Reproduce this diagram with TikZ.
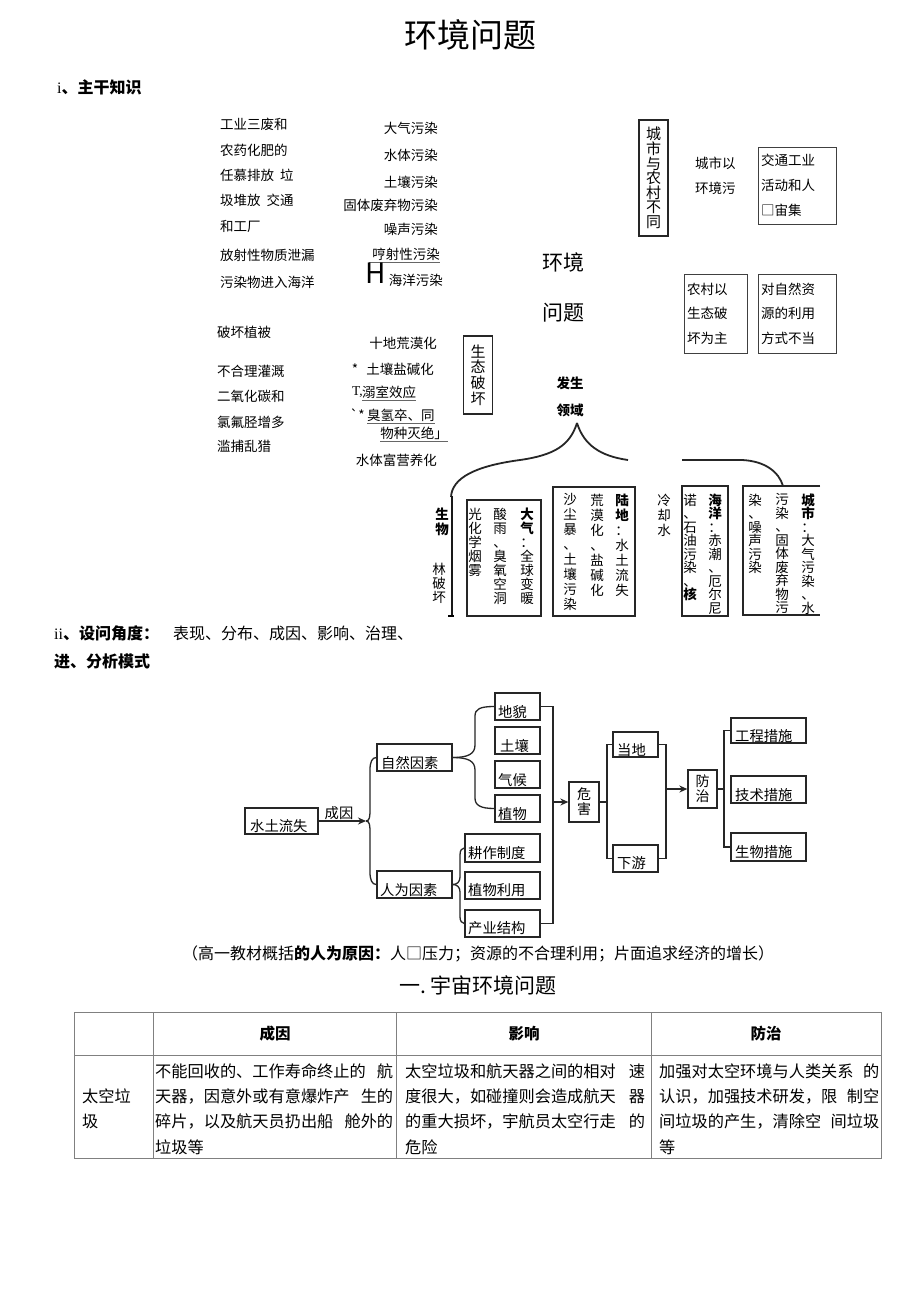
\documentclass[tikz,border=0pt]{standalone}
\usepackage{fontspec}
\setmainfont{Noto Sans CJK SC}
\newfontfamily\latserif{Liberation Serif}
\usetikzlibrary{arrows.meta}
\newcommand\myfs[1]{\fontsize{#1}{#1}\selectfont}
\newcommand\vfs[2]{\fontsize{#1}{#2}\selectfont}
\begin{document}
\begin{tikzpicture}[x=1pt,y=-1pt,
  tx/.style={inner sep=0pt, font=\myfs{13.5}},
  txl/.style={tx, anchor=west},
  txr/.style={tx, anchor=east},
  vtxt/.style={inner sep=0pt, align=center},
  thinbox/.style={draw=black!75, line width=0.8pt, inner sep=0pt},
  vbox/.style={draw=black!85, line width=1.3pt, inner sep=0pt},
  bigbox/.style={draw=black!85, line width=1.4pt},
  fbox/.style={draw=black!85, line width=1.3pt, inner sep=0pt},
  ftx/.style={inner sep=0pt, anchor=west, font=\myfs{14.3}},
  conn/.style={draw=black!85, line width=1.3pt},
  arr/.style={conn, -{Stealth[length=8pt,width=7pt]}},
  ul/.style={draw=black!60, line width=0.7pt},
  tbl/.style={draw=black!50, line width=0.8pt},
  brc/.style={draw=black!85, line width=1.8pt},
  colA/.style={vtxt, anchor=north, font=\vfs{13.5}{14}},
  colB/.style={vtxt, anchor=north, font=\vfs{13.5}{15}},
  colC/.style={vtxt, anchor=north, font=\vfs{13.5}{13.5}},
  cell/.style={inner sep=0pt, anchor=west, font=\myfs{16.2}}
]
\fill[white] (0,0) rectangle (920,1301);
\useasboundingbox (0,0) rectangle (920,1301);

% ---------- title ----------
\node[inner sep=0pt, font=\myfs{33}] (title) at (470,35) {环境问题};
\node[anchor=west, inner sep=0pt, font=\myfs{16}] (h1) at (57,87) {{\latserif i}\textbf{、主干知识}};

% ---------- left column ----------
\node[txl] (l1) at (220,124) {工业三废和};
\node[txl] (l2) at (220,150) {农药化肥的};
\node[txl] (l3) at (220,175) {任慕排放\hspace{6pt}垃};
\node[txl] (l4) at (220,200) {圾堆放\hspace{6pt}交通};
\node[txl] (l5) at (220,226) {和工厂};
\node[txl] (l6) at (220,255) {放射性物质泄漏};
\node[txl] (l7) at (220,282) {污染物进入海洋};

% ---------- middle column ----------
\node[txr] (m1) at (438,128) {大气污染};
\node[txr] (m2) at (438,155) {水体污染};
\node[txr] (m3) at (438,182) {土壤污染};
\node[txr] (m4) at (438,205) {固体废弃物污染};
\node[txr] (m5) at (438,229) {噪声污染};
\node[txr] (m6) at (440,254) {哼射性污染};
\draw[ul] ([xshift=-3pt,yshift=-2pt]m6.south west) -- ([yshift=-2pt]m6.south east);
\node[inner sep=0pt, font=\myfs{28}] (hh) at (376,273) {H};
\node[txr] (m7) at (443,280) {海洋污染};

% ---------- lower left ----------
\node[txl] (b1) at (217,332) {破坏植被};
\node[txl] (b2) at (217,371) {不合理灌溉};
\node[txl] (b3) at (217,396) {二氧化碳和};
\node[txl] (b4) at (217,422) {氯氟胫增多};
\node[txl] (b5) at (217,446) {滥捕乱猎};

% ---------- middle lower ----------
\node[txr] (n1) at (437,343) {十地荒漠化};
\node[txr] (n2) at (434,369) {*\hspace{8pt}土壤盐碱化};
\node[txl] (n3) at (352,392) {{\latserif T,}};
\node[txl] (n3u) at (362,392) {溺室效应};
\draw[ul] ([yshift=-2pt]n3u.south west) -- ([yshift=-2pt]n3u.south east);
\node[txl] (n4) at (350,415) {\textasciigrave*};
\node[txl] (n4u) at (367,415) {臭氢卒、同};
\draw[ul] ([yshift=-2pt]n4u.south west) -- ([yshift=-2pt]n4u.south east);
\node[txr] (n5u) at (448,433) {物种灭绝」};
\draw[ul] ([yshift=-2pt]n5u.south west) -- ([yshift=-2pt]n5u.south east);
\node[txr] (n6) at (437,460) {水体富营养化};

\node[vbox, vtxt, minimum width=29pt, minimum height=78pt, font=\vfs{15}{15.8}] (stph) at (478,375) {生\\态\\破\\坏};

% ---------- right upper ----------
\node[vbox, vtxt, minimum width=29pt, minimum height=116pt, font=\vfs{15}{14.6}] (csnc) at (653.5,178) {城\\市\\与\\农\\村\\不\\同};
\node[inner sep=0pt, font=\myfs{21}] (hj) at (563,262) {环境};
\node[inner sep=0pt, font=\myfs{21}] (wt) at (563,313) {问题};
\node[txl] (cs1t) at (695,163) {城市以};
\node[txl] (cs2t) at (695,188) {环境污};
\node[thinbox, align=left, text width=72pt, minimum width=78pt, minimum height=77pt, font=\vfs{13.5}{25}] (jt) at (797,185.5) {交通工业\\活动和人\\□宙集};
\node[thinbox, align=left, text width=57pt, minimum width=63pt, minimum height=79pt, font=\vfs{13.5}{24.5}] (ncy) at (715.5,313.5) {农村以\\生态破\\坏为主};
\node[thinbox, align=left, text width=72pt, minimum width=78pt, minimum height=79pt, font=\vfs{13.5}{24.5}] (dzr) at (797,313.5) {对自然资\\源的利用\\方式不当};

\node[inner sep=0pt, font=\myfs{13.5}] (fs) at (570,383) {\textbf{发生}};
\node[inner sep=0pt, font=\myfs{13.5}] (ly) at (570,410) {\textbf{领域}};

% ---------- brace ----------
\coordinate (bt) at (577,423);
\coordinate (bre) at (628,460);
\coordinate (brl) at (451,497);
\coordinate (rb1) at (682,460);
\coordinate (rb2) at (783,486);
\draw[brc] (bt) .. controls (584,445) and (600,456) .. (bre);
\draw[brc] (bt) .. controls (570,445) and (555,455) .. (520,460) .. controls (475,466) and (452,478) .. (brl);
\draw[brc] (rb1) -- (742,460) .. controls (765,461) and (779,472) .. (rb2);
\draw[line width=2.6pt, draw=black!90] (452,496) -- (452,616);
\draw[line width=1.5pt] (448,616) -- (454,616);

\node[vtxt, anchor=north, font=\vfs{13.5}{15}] (bio) at (442,508) {\textbf{生}\\\textbf{物}};
\node[vtxt, anchor=north, font=\vfs{13.5}{14}] (lpw) at (439,563) {林\\破\\坏};

% ---------- lower boxes ----------
\node[bigbox, minimum width=74pt, minimum height=116pt, inner sep=0pt] (dqb) at (504,558) {};
\node[colA] (dq1) at (527,507.5) {\textbf{大}\\\textbf{气}\\：\\全\\球\\变\\暖};
\node[colA] (dq2) at (500,507.5) {酸\\雨\\、\\臭\\氧\\空\\洞};
\node[colA] (dq3) at (475,507.5) {光\\化\\学\\烟\\雾};

\node[bigbox, minimum width=82pt, minimum height=129pt, inner sep=0pt] (ldb) at (594,551.5) {};
\node[colB] (ld1) at (622,493.5) {\textbf{陆}\\\textbf{地}\\：\\水\\土\\流\\失};
\node[colB] (ld2) at (597,493.5) {荒\\漠\\化\\、\\盐\\碱\\化};
\node[colB] (ld3) at (570,493.5) {沙\\尘\\暴\\、\\土\\壤\\污\\染};

\node[colB] (lqs) at (664,493.5) {冷\\却\\水};

\node[bigbox, minimum width=46pt, minimum height=130pt, inner sep=0pt] (hyb) at (705,551) {};
\node[colC] (hy1) at (715,493.5) {\textbf{海}\\\textbf{洋}\\：\\赤\\潮\\、\\厄\\尔\\尼};
\node[colC] (hy2) at (690,493.5) {诺\\、\\石\\油\\污\\染\\、\\\textbf{核}};

\draw[line width=1.4pt, draw=black!85] (820,486) -- (743,486) -- (743,615) -- (820,615);
\node[colC] (cs1) at (808,493.5) {\textbf{城}\\\textbf{市}\\：\\大\\气\\污\\染\\、\\水};
\node[colC] (cs2) at (782,493.5) {污\\染\\、\\固\\体\\废\\弃\\物\\污};
\node[colC] (cs3) at (755,493.5) {染\\、\\噪\\声\\污\\染};

% ---------- section ii ----------
\node[anchor=west, inner sep=0pt, font=\myfs{16}] (h2) at (54,633) {{\latserif ii}\textbf{、设问角度：}};
\node[anchor=west, inner sep=0pt, font=\myfs{16}] (h2b) at (173,633) {表现、分布、成因、影响、治理、};
\node[anchor=west, inner sep=0pt, font=\myfs{16}] (h3) at (54,661) {\textbf{进、分析模式}};

% ---------- flowchart ----------
\node[fbox, minimum width=73pt, minimum height=26pt] (sttl) at (281.5,821) {};
\node[ftx] (sttlt) at (250,826) {水土流失};
\node[fbox, minimum width=75pt, minimum height=27pt] (zrys) at (414.5,757.5) {};
\node[ftx] (zryst) at (381,763) {自然因素};
\node[fbox, minimum width=75pt, minimum height=27pt] (rwys) at (414.5,884.5) {};
\node[ftx] (rwyst) at (380,890) {人为因素};

\node[fbox, minimum width=45pt, minimum height=27pt] (dm) at (517.5,706.5) {};
\node[ftx] (dmt) at (498,712) {地貌};
\node[fbox, minimum width=45pt, minimum height=27pt] (tr) at (517.5,740.5) {};
\node[ftx] (trt) at (500,746) {土壤};
\node[fbox, minimum width=45pt, minimum height=27pt] (qh) at (517.5,774.5) {};
\node[ftx] (qht) at (498,780) {气候};
\node[fbox, minimum width=45pt, minimum height=27pt] (zw) at (517.5,808.5) {};
\node[ftx] (zwt) at (498,814) {植物};

\node[fbox, minimum width=75pt, minimum height=28pt] (gz) at (502.5,848) {};
\node[ftx] (gzt) at (468,853) {耕作制度};
\node[fbox, minimum width=75pt, minimum height=27pt] (zwly) at (502.5,885.5) {};
\node[ftx] (zwlyt) at (468,890) {植物利用};
\node[fbox, minimum width=75pt, minimum height=27pt] (cyjg) at (502.5,923.5) {};
\node[ftx] (cyjgt) at (468,928) {产业结构};

\node[fbox, vtxt, minimum width=30pt, minimum height=40pt, font=\vfs{14}{15}] (wh) at (584,802) {\raisebox{-2pt}{危}\\\raisebox{-2pt}{害}};
\node[fbox, minimum width=45pt, minimum height=25pt] (dd) at (635.5,744.5) {};
\node[ftx] (ddt) at (617,750) {当地};
\node[fbox, minimum width=45pt, minimum height=27pt] (xy) at (635.5,858.5) {};
\node[ftx] (xyt) at (617,863) {下游};
\node[fbox, vtxt, minimum width=29pt, minimum height=38pt, font=\vfs{14}{15}] (fz) at (702.5,789) {防\\治};
\node[fbox, minimum width=75pt, minimum height=25pt] (gc) at (768.5,730.5) {};
\node[ftx] (gct) at (735,736) {工程措施};
\node[fbox, minimum width=75pt, minimum height=27pt] (js) at (768.5,789.5) {};
\node[ftx] (jst) at (735,795) {技术措施};
\node[fbox, minimum width=75pt, minimum height=28pt] (swcs) at (768.5,847) {};
\node[ftx] (swcst) at (735,852) {生物措施};

% connectors
\coordinate (br1) at (366,821);
\draw[arr, line width=2.2pt] (sttl.east) -- (br1);
\node[ftx, anchor=center] (cy) at (339,813) {成因};
\draw[conn] (br1) .. controls (370,821) and (370,816) .. (370,808) -- (370,770) .. controls (370,762) and (372,757.5) .. (zrys.west);
\draw[conn] (br1) .. controls (370,821) and (370,826) .. (370,834) -- (370,872) .. controls (370,880) and (372,884.5) .. (rwys.west);
\draw[conn] (zrys.east) .. controls (468,757.5) and (475,754) .. (475,745) -- (475,716) .. controls (475,709) and (480,706.5) .. (dm.west);
\draw[conn] (zrys.east) .. controls (468,757.5) and (475,761) .. (475,770) -- (475,798) .. controls (475,805) and (480,808.5) .. (zw.west);
\draw[conn] (rwys.east) .. controls (457,884.5) and (460,882) .. (460,877) -- (460,855) .. controls (460,850) and (462,848) .. (gz.west);
\draw[conn] (rwys.east) .. controls (457,884.5) and (460,887) .. (460,892) -- (460,917) .. controls (460,921) and (462,923.5) .. (cyjg.west);
\draw[conn] (dm.east) -- (553,706.5) -- (553,923.5) -- (cyjg.east);
\coordinate (colp) at (553,802);
\draw[arr] (colp) -- (wh.west);
\draw[conn] (wh.east) -- (607,802);
\draw[conn] (dd.west) -- (607,744.5) -- (607,858.5) -- (xy.west);
\draw[conn] (dd.east) -- (666,744.5) -- (666,858.5) -- (xy.east);
\coordinate (c2) at (666,789);
\draw[arr] (c2) -- (fz.west);
\draw[conn] (fz.east) -- (724,789);
\draw[conn] (gc.west) -- (724,730.5) -- (724,847) -- (swcs.west);

% ---------- caption & heading ----------
\node[inner sep=0pt, font=\myfs{16}] (cap) at (478,954) {（高一教材概括\textbf{的人为原因：}人□压力；资源的不合理利用；片面追求经济的增长）};
\node[inner sep=0pt, font=\myfs{21}] (h4) at (478,985) {一.\,宇宙环境问题};

% ---------- table ----------
\draw[tbl] (74,1012) rectangle (881,1158);
\draw[tbl] (74,1055) -- (881,1055);
\draw[tbl] (153,1012) -- (153,1158);
\draw[tbl] (396,1012) -- (396,1158);
\draw[tbl] (651,1012) -- (651,1158);

\node[inner sep=0pt, font=\myfs{15.5}] (th1) at (275,1034) {\textbf{成因}};
\node[inner sep=0pt, font=\myfs{15.5}] (th2) at (524,1034) {\textbf{影响}};
\node[inner sep=0pt, font=\myfs{15.5}] (th3) at (766,1034) {\textbf{防治}};

\node[cell] (c11) at (82,1096) {太空垃};
\node[cell] (c12) at (82,1121) {圾};

\node[cell] (c21) at (155,1071) {\makebox[238pt][s]{不能回收的、工作寿命终止的 航}};
\node[cell] (c22) at (155,1096) {\makebox[238pt][s]{天器，因意外或有意爆炸产 生的}};
\node[cell] (c23) at (155,1121) {\makebox[238pt][s]{碎片，以及航天员扔出船 舱外的}};
\node[cell] (c24) at (155,1147) {垃圾等};

\node[cell] (c31) at (405,1071) {\makebox[240pt][s]{太空垃圾和航天器之间的相对 速}};
\node[cell] (c32) at (405,1096) {\makebox[240pt][s]{度很大，如碰撞则会造成航天 器}};
\node[cell] (c33) at (405,1121) {\makebox[240pt][s]{的重大损坏，宇航员太空行走 的}};
\node[cell] (c34) at (405,1147) {危险};

\node[cell] (c41) at (659,1071) {\makebox[220pt][s]{加强对太空环境与人类关系 的}};
\node[cell] (c42) at (659,1096) {\makebox[220pt][s]{认识，加强技术研发，限 制空}};
\node[cell] (c43) at (659,1121) {\makebox[220pt][s]{间垃圾的产生，清除空 间垃圾}};
\node[cell] (c44) at (659,1147) {等};
\end{tikzpicture}
\end{document}
